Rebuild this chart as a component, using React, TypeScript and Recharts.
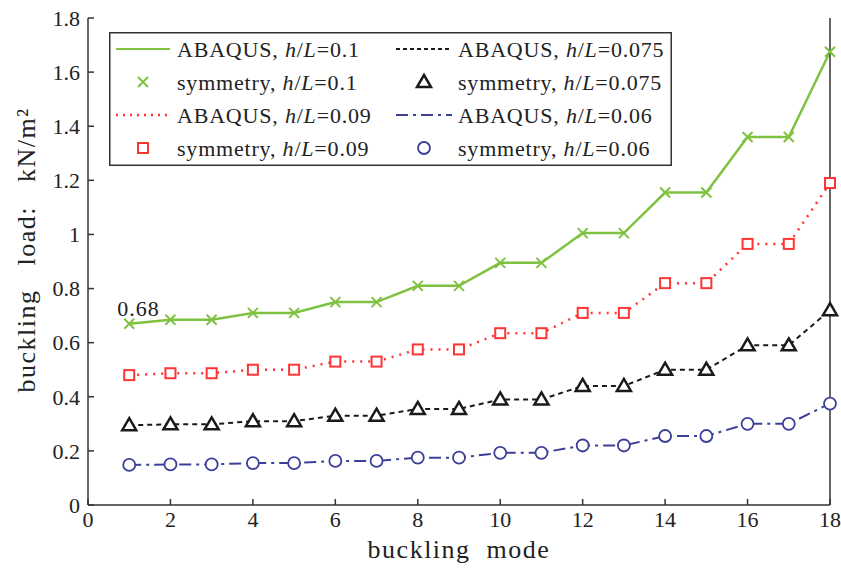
import { LineChart, Line, XAxis, YAxis, Legend } from 'recharts';

const modes = [1, 2, 3, 4, 5, 6, 7, 8, 9, 10, 11, 12, 13, 14, 15, 16, 17, 18];
const load010 = [0.67, 0.685, 0.685, 0.71, 0.71, 0.75, 0.75, 0.81, 0.81, 0.895, 0.895, 1.005, 1.005, 1.155, 1.155, 1.36, 1.36, 1.675];
const load009 = [0.48, 0.487, 0.487, 0.5, 0.5, 0.53, 0.53, 0.575, 0.575, 0.635, 0.635, 0.71, 0.71, 0.82, 0.82, 0.965, 0.965, 1.19];
const load0075 = [0.295, 0.298, 0.298, 0.31, 0.31, 0.33, 0.33, 0.355, 0.355, 0.39, 0.39, 0.44, 0.44, 0.5, 0.5, 0.59, 0.59, 0.72];
const load006 = [0.148, 0.15, 0.15, 0.155, 0.155, 0.163, 0.163, 0.175, 0.175, 0.193, 0.193, 0.22, 0.22, 0.255, 0.255, 0.3, 0.3, 0.375];
const xTicks = [0, 2, 4, 6, 8, 10, 12, 14, 16, 18];
const yTicks = [0, 0.2, 0.4, 0.6, 0.8, 1, 1.2, 1.4, 1.6, 1.8];

const GREEN = '#7fc241';
const RED = '#ff3434';
const BLACK = '#1a1a1a';
const BLUE = '#3b3f98';
const AXIS = '#333';
const FONT = '"Liberation Serif", "DejaVu Serif", serif';

const data = modes.map((m, i) => ({
  mode: m,
  h010: load010[i],
  h009: load009[i],
  h0075: load0075[i],
  h006: load006[i],
}));

const cross = (cx: number, cy: number, key?: any) => (
  <path key={key} d={`M${cx - 5},${cy - 5}L${cx + 5},${cy + 5}M${cx - 5},${cy + 5}L${cx + 5},${cy - 5}`} stroke={GREEN} strokeWidth={2} fill="none" />
);
const square = (cx: number, cy: number, key?: any) => (
  <rect key={key} x={cx - 5} y={cy - 5} width={10} height={10} stroke={RED} strokeWidth={2} fill="#fff" />
);
const triangle = (cx: number, cy: number, key?: any) => (
  <path key={key} d={`M${cx},${cy - 7}L${cx + 7},${cy + 5}L${cx - 7},${cy + 5}Z`} stroke={BLACK} strokeWidth={2.5} fill="#fff" strokeLinejoin="miter" />
);
const circle = (cx: number, cy: number, key?: any) => (
  <circle key={key} cx={cx} cy={cy} r={6} stroke={BLUE} strokeWidth={1.8} fill="#fff" />
);

const legendRows = [
  [
    { line: { stroke: GREEN, dash: undefined, w: 2 }, name: 'ABAQUS', hl: '0.1' },
    { line: { stroke: BLACK, dash: '4 3', w: 1.8 }, name: 'ABAQUS', hl: '0.075' },
  ],
  [
    { marker: cross, name: 'symmetry', hl: '0.1' },
    { marker: triangle, name: 'symmetry', hl: '0.075' },
  ],
  [
    { line: { stroke: RED, dash: '2 5', w: 2.5 }, name: 'ABAQUS', hl: '0.09' },
    { line: { stroke: BLUE, dash: '12 5 3 5', w: 2 }, name: 'ABAQUS', hl: '0.06' },
  ],
  [
    { marker: square, name: 'symmetry', hl: '0.09' },
    { marker: circle, name: 'symmetry', hl: '0.06' },
  ],
];

function LegendBox() {
  const colX = [[7, 61, 68], [287, 343, 349]];
  return (
    <svg width={563} height={134} style={{ display: 'block' }}>
      <rect x={0.75} y={0.75} width={561.5} height={132.5} fill="#fff" stroke={AXIS} strokeWidth={1.5} />
      {legendRows.map((row, r) =>
        row.map((item: any, c) => {
          const cy = 17 + r * 33;
          const [x1, x2, tx] = colX[c];
          return (
            <g key={`${r}-${c}`}>
              {item.line ? (
                <line x1={x1} x2={x2} y1={cy} y2={cy} stroke={item.line.stroke} strokeWidth={item.line.w} strokeDasharray={item.line.dash} />
              ) : (
                item.marker((x1 + x2) / 2, cy)
              )}
              <text x={tx} y={cy} dy="0.35em" fontFamily={FONT} fontSize={22} letterSpacing={0.8} fill="#222">
                {item.name}, <tspan fontStyle="italic">h</tspan>/<tspan fontStyle="italic">L</tspan>={item.hl}
              </text>
            </g>
          );
        })
      )}
    </svg>
  );
}

const tickStyle = { fontFamily: FONT, fontSize: 22, fill: '#222' };

export default function App() {
  return (
    <div style={{ position: 'absolute', left: 0, top: 0, background: '#fff', fontFamily: FONT }}>
      <LineChart width={841} height={574} data={data} margin={{ top: 18, right: 10, bottom: 0, left: 0 }} style={{ fontFamily: FONT }}>
        <XAxis
          dataKey="mode"
          type="number"
          domain={[0, 18]}
          ticks={xTicks}
          height={69}
          tickSize={-6}
          tickMargin={12}
          stroke={AXIS}
          strokeWidth={1.5}
          tick={tickStyle}
          label={({ viewBox }: any) => (
            <text x={viewBox.x + viewBox.width / 2} y={549} dy="0.35em" textAnchor="middle" fontFamily={FONT} fontSize={26} letterSpacing={1.5} fill="#222">
              buckling{'\u00A0'} mode
            </text>
          )}
        />
        <XAxis
          xAxisId="top"
          orientation="top"
          dataKey="mode"
          type="number"
          domain={[0, 18]}
          ticks={xTicks}
          height={0}
          tickSize={-6}
          stroke={AXIS}
          strokeWidth={1.5}
          tickFormatter={() => ''}
        />
        <YAxis
          type="number"
          domain={[0, 1.8]}
          ticks={yTicks}
          width={88}
          tickSize={-6}
          tickMargin={14}
          stroke={AXIS}
          strokeWidth={1.5}
          tick={tickStyle}
          label={() => (
            <text
              x={26}
              y={250}
              dy="0.35em"
              textAnchor="middle"
              fontFamily={FONT}
              fontSize={26}
              letterSpacing={1.5}
              fill="#222"
              transform="rotate(-90 26 250)"
            >
              buckling{'\u00A0\u00A0'} load:{'\u00A0\u00A0'} kN/m²
            </text>
          )}
        />
        <YAxis
          yAxisId="right"
          orientation="right"
          type="number"
          domain={[0, 1.8]}
          ticks={yTicks}
          width={1}
          tickSize={-6}
          stroke={AXIS}
          strokeWidth={1.5}
          tickFormatter={() => ''}
        />
        <Legend
          layout="horizontal"
          verticalAlign="middle"
          align="center"
          content={() => <LegendBox />}
          wrapperStyle={{ position: 'absolute', left: 109, top: 32, width: 563, height: 134 }}
        />
        <Line
          dataKey="h010"
          stroke={GREEN}
          strokeWidth={2.5}
          isAnimationActive={false}
          dot={(p: any) => cross(p.cx, p.cy, p.key)}
          label={(p: any) =>
            p.index === 0 ? (
              <text key="lbl" x={p.x - 12} y={p.y - 8} style={{ fontFamily: FONT }} fontSize={22} letterSpacing={1} fill="#222">
                0.68
              </text>
            ) : null
          }
        />
        <Line dataKey="h009" stroke={RED} strokeWidth={2.5} strokeDasharray="2 6" isAnimationActive={false} dot={(p: any) => square(p.cx, p.cy, p.key)} />
        <Line dataKey="h0075" stroke={BLACK} strokeWidth={2} strokeDasharray="5 4" isAnimationActive={false} dot={(p: any) => triangle(p.cx, p.cy, p.key)} />
        <Line dataKey="h006" stroke={BLUE} strokeWidth={2} strokeDasharray="12 5 3 5" isAnimationActive={false} dot={(p: any) => circle(p.cx, p.cy, p.key)} />
      </LineChart>
    </div>
  );
}
